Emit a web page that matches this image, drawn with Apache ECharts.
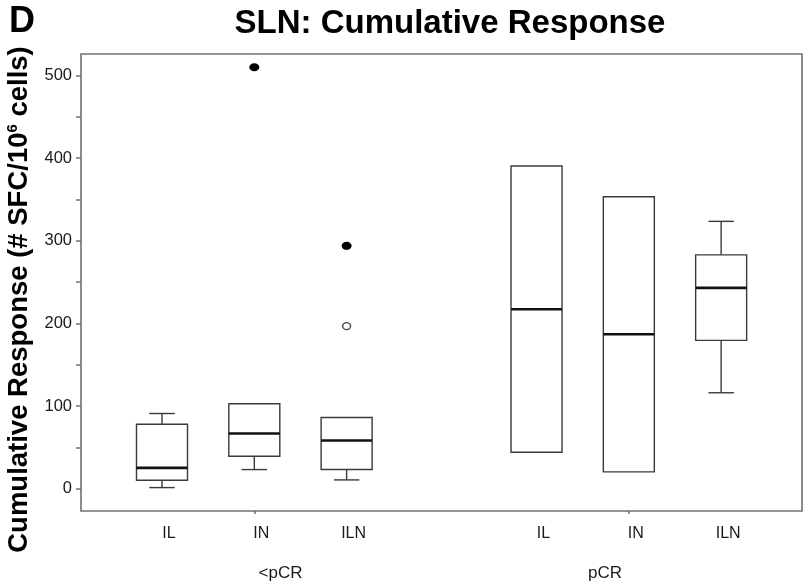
<!DOCTYPE html>
<html><head><meta charset="utf-8">
<script src="https://cdn.jsdelivr.net/npm/echarts@6/dist/echarts.min.js"></script>
<style>html,body{margin:0;padding:0;background:#fff}#c{width:808px;height:588px}</style>
</head><body><div id="c"></div>
<script>
// ---- data ----
const groups = ['<pCR', 'pCR'];
const sites = ['IL', 'IN', 'ILN'];
// box order: <pCR IL, <pCR IN, <pCR ILN, pCR IL, pCR IN, pCR ILN
const lowWhisker  = [1.6, 23.4, 10.9, 44.4, 20.6, 116.3];
const q1          = [10.4, 39.5, 23.4, 44.4, 20.6, 179.7];
const median      = [25.4, 67, 58.5, 217.3, 187, 243.1];
const q3          = [78.3, 103, 86.4, 390.6, 353.4, 283.1];
const highWhisker = [91.2, 103, 86.4, 390.6, 353.4, 323.6];
// [groupIndex, siteIndex, value]
const extremeOutliers = [[0, 1, 510], [0, 2, 294]];
const outliers = [[0, 2, 197]];
const yTickValues = [0, 50, 100, 150, 200, 250, 300, 350, 400, 450, 500];
const yLabelValues = [0, 100, 200, 300, 400, 500];

// ---- layout (slot units along x) ----
const clusterStart = [0.8776, 4.935];
const X_MAX = 7.811;
const BOX_W = 0.5525;
const groupLabelPos = [2.161, 5.677];
const pos = (g, s) => clusterStart[g] + s;

const boxData = [];
const boxPos = [];
groups.forEach((g, gi) => sites.forEach((s, si) => {
  const i = gi * sites.length + si;
  const p = pos(gi, si);
  boxPos.push(p);
  boxData.push([p, lowWhisker[i], q1[i], median[i], q3[i], highWhisker[i]]);
}));
const clusterCenters = clusterStart.map(c => c + 1);

const FONT = '"Liberation Sans", Arial, sans-serif';
const FRAME = '#707070';
const LINE = '#3a3a3a';

function nearestIndex(arr, v) {
  let best = 0;
  arr.forEach((a, i) => { if (Math.abs(a - v) < Math.abs(arr[best] - v)) best = i; });
  return best;
}

const chart = echarts.init(document.getElementById('c'), null, {renderer: 'canvas'});
chart.setOption({
  animation: false,
  backgroundColor: '#fff',
  graphic: [
    {type: 'text', x: 9, y: 22, style: {text: 'D', fontSize: 36, fontWeight: 'bold', fontFamily: FONT, fill: '#000', align: 'left', textAlign: 'left', verticalAlign: 'middle', textVerticalAlign: 'middle'}},
    {type: 'text', x: 450, y: 24, style: {text: 'SLN: Cumulative Response', fontSize: 33, fontWeight: 'bold', fontFamily: FONT, fill: '#000', align: 'center', textAlign: 'center', verticalAlign: 'middle', textVerticalAlign: 'middle'}}
  ],
  grid: {left: 81, right: 6, top: 54, bottom: 77, show: true, borderColor: FRAME, borderWidth: 1.6, backgroundColor: 'transparent', containLabel: false, outerBoundsMode: 'none'},
  xAxis: [
    {
      type: 'value', min: 0, max: X_MAX, position: 'bottom',
      axisLine: {show: false, onZero: false}, splitLine: {show: false},
      axisTick: {show: true, customValues: clusterCenters, length: 3, lineStyle: {color: FRAME, width: 1.5}},
      axisLabel: {
        show: true, customValues: boxPos, margin: 15, fontSize: 16, fontFamily: FONT, color: '#1a1a1a',
        padding: [0, 0, 0, 14],
        formatter: v => sites[nearestIndex(boxPos, v) % sites.length]
      }
    },
    {
      type: 'value', min: 0, max: X_MAX, position: 'bottom',
      axisLine: {show: false, onZero: false}, splitLine: {show: false}, axisTick: {show: false},
      axisLabel: {
        show: true, customValues: groupLabelPos, margin: 54, fontSize: 17, fontFamily: FONT, color: '#1a1a1a',
        formatter: v => groups[nearestIndex(groupLabelPos, v)]
      }
    }
  ],
  yAxis: {
    type: 'value', min: -26.7, max: 526,
    axisLine: {show: false, onZero: false}, splitLine: {show: false},
    axisTick: {show: true, customValues: yTickValues, length: 5, lineStyle: {color: FRAME, width: 1.5}},
    axisLabel: {show: true, customValues: yLabelValues, margin: 9, fontSize: 16.5, fontFamily: FONT, color: '#1a1a1a'},
    name: '{a|Cumulative Response (# SFC/10}{sup|6}{a| cells)}',
    nameLocation: 'middle', nameGap: 48,
    nameTextStyle: {
      color: '#000', fontFamily: FONT, fontWeight: 'bold', fontSize: 27.5,
      padding: [0, 34, 0, 0],
      rich: {
        a: {fontSize: 27.5, fontWeight: 'bold', fontFamily: FONT, color: '#000'},
        sup: {fontSize: 15, fontWeight: 'bold', fontFamily: FONT, color: '#000', verticalAlign: 'top', lineHeight: 15}
      }
    }
  },
  series: [
    {
      type: 'custom',
      xAxisIndex: 0,
      data: boxData,
      encode: {x: 0, y: [1, 2, 3, 4, 5]},
      renderItem: function (params, api) {
        const x = api.value(0);
        const lo = api.value(1), a = api.value(2), m = api.value(3), b = api.value(4), hi = api.value(5);
        const pLo = api.coord([x, lo]), pA = api.coord([x, a]), pM = api.coord([x, m]), pB = api.coord([x, b]), pHi = api.coord([x, hi]);
        const w = api.size([BOX_W, 0])[0];
        const halfW = w / 2, capW = w / 4;
        const cx = pA[0];
        const st = {stroke: LINE, lineWidth: 1.4, fill: null};
        const children = [];
        if (hi > b) {
          children.push({type: 'line', shape: {x1: cx, y1: pB[1], x2: cx, y2: pHi[1]}, style: st});
          children.push({type: 'line', shape: {x1: cx - capW, y1: pHi[1], x2: cx + capW, y2: pHi[1]}, style: st});
        }
        if (lo < a) {
          children.push({type: 'line', shape: {x1: cx, y1: pA[1], x2: cx, y2: pLo[1]}, style: st});
          children.push({type: 'line', shape: {x1: cx - capW, y1: pLo[1], x2: cx + capW, y2: pLo[1]}, style: st});
        }
        children.push({type: 'rect', shape: {x: cx - halfW, y: pB[1], width: w, height: pA[1] - pB[1]}, style: {fill: '#fff', stroke: LINE, lineWidth: 1.4}});
        children.push({type: 'line', shape: {x1: cx - halfW, y1: pM[1], x2: cx + halfW, y2: pM[1]}, style: {stroke: '#111', lineWidth: 2.6}});
        return {type: 'group', children: children};
      }
    },
    {
      type: 'scatter', xAxisIndex: 0,
      data: extremeOutliers.map(([g, s, v]) => [pos(g, s), v]),
      symbol: 'circle', symbolSize: [10, 8],
      itemStyle: {color: '#000', opacity: 1}
    },
    {
      type: 'scatter', xAxisIndex: 0,
      data: outliers.map(([g, s, v]) => [pos(g, s), v]),
      symbol: 'circle', symbolSize: [8, 7],
      itemStyle: {color: '#fff', borderColor: '#444', borderWidth: 1.3, opacity: 1}
    }
  ]
});
</script>
</body></html>
